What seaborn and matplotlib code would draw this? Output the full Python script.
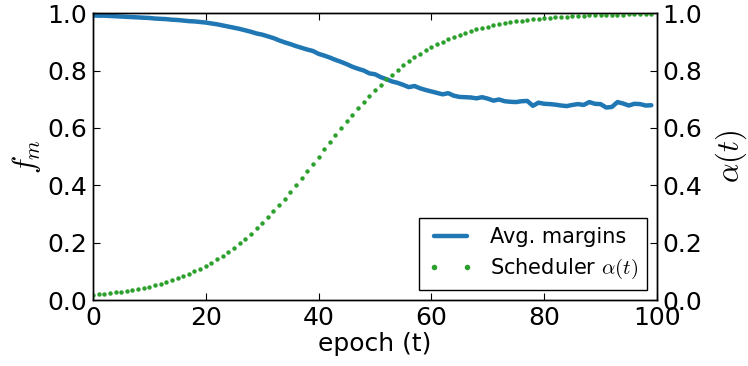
import numpy as np
import pandas as pd
import matplotlib
matplotlib.use("Agg")
import matplotlib.pyplot as plt
import seaborn as sns

# values
epochs = list(range(100))

avg_margins = [
    0.992, 0.991, 0.991, 0.990, 0.989, 0.988, 0.987, 0.986, 0.985, 0.984,
    0.983, 0.981, 0.980, 0.979, 0.977, 0.976, 0.974, 0.972, 0.971, 0.969,
    0.967, 0.964, 0.961, 0.957, 0.953, 0.949, 0.945, 0.940, 0.935, 0.929,
    0.925, 0.919, 0.913, 0.905, 0.898, 0.892, 0.885, 0.879, 0.873, 0.868,
    0.858, 0.852, 0.845, 0.837, 0.830, 0.822, 0.813, 0.806, 0.800, 0.790,
    0.787, 0.777, 0.770, 0.762, 0.757, 0.750, 0.742, 0.746, 0.738, 0.732,
    0.727, 0.722, 0.717, 0.721, 0.712, 0.708, 0.707, 0.706, 0.703, 0.707,
    0.702, 0.695, 0.699, 0.693, 0.691, 0.690, 0.693, 0.694, 0.677, 0.688,
    0.684, 0.683, 0.681, 0.678, 0.676, 0.680, 0.683, 0.680, 0.690, 0.684,
    0.683, 0.671, 0.673, 0.690, 0.685, 0.678, 0.684, 0.683, 0.678, 0.679,
]

scheduler = [
    0.018, 0.020, 0.022, 0.024, 0.027, 0.029, 0.032, 0.036, 0.039, 0.043,
    0.047, 0.052, 0.057, 0.063, 0.069, 0.076, 0.083, 0.091, 0.100, 0.109,
    0.119, 0.130, 0.142, 0.155, 0.168, 0.182, 0.198, 0.214, 0.232, 0.250,
    0.269, 0.289, 0.310, 0.332, 0.354, 0.378, 0.401, 0.426, 0.450, 0.475,
    0.500, 0.525, 0.550, 0.574, 0.599, 0.623, 0.646, 0.668, 0.690, 0.711,
    0.731, 0.750, 0.769, 0.786, 0.802, 0.818, 0.832, 0.846, 0.858, 0.870,
    0.881, 0.891, 0.900, 0.909, 0.917, 0.924, 0.931, 0.937, 0.943, 0.948,
    0.953, 0.957, 0.961, 0.964, 0.968, 0.971, 0.973, 0.976, 0.978, 0.980,
    0.982, 0.984, 0.985, 0.987, 0.988, 0.989, 0.990, 0.991, 0.992, 0.993,
    0.993, 0.994, 0.995, 0.995, 0.995, 0.996, 0.996, 0.997, 0.997, 0.997,
]

yticks = [0, 0.2, 0.4, 0.6, 0.8, 1.0]
ytick_labels = ["0.0", "0.2", "0.4", "0.6", "0.8", "1.0"]
xticks = [0, 20, 40, 60, 80, 100]

df = pd.DataFrame({"epoch": epochs, "margins": avg_margins, "alpha": scheduler})

sns.set_style("white")
plt.rcParams["font.family"] = ["DejaVu Sans"]
plt.rcParams["mathtext.fontset"] = "cm"
for key in ("text.color", "axes.labelcolor", "xtick.color", "ytick.color"):
    plt.rcParams[key] = "black"

BLUE = "#1f77b4"
GREEN = "#2ca02c"

fig = plt.figure(figsize=(7.48, 3.66), dpi=100)
ax = fig.add_axes([0.1243, 0.180, 0.7540, 0.7842])
ax2 = ax.twinx()

sns.lineplot(data=df, x="epoch", y="margins", ax=ax, color=BLUE, lw=3.2,
             label="Avg. margins", legend=False)
sns.lineplot(data=df, x="epoch", y="alpha", ax=ax2, color=GREEN, lw=0,
             marker="o", markersize=3.2, markeredgewidth=0,
             label=r"Scheduler $\alpha(t)$", legend=False)

for a in (ax, ax2):
    a.set_xlim(0, 100)
    a.set_ylim(0, 1)
    a.set_yticks(yticks)
    a.set_yticklabels(ytick_labels)
    for s in a.spines.values():
        s.set_color("black")
        s.set_linewidth(1.0)

ax.set_xticks(xticks)
ax.tick_params(axis="both", direction="in", length=5, width=0.8, labelsize=18,
               top=True, bottom=True, left=True, right=False, pad=4)
ax2.tick_params(axis="y", direction="in", length=5, width=0.8, labelsize=18,
                right=True, left=False, pad=4)

ax.set_xlabel("epoch (t)", fontsize=18, labelpad=2)
ax.set_ylabel(r"$f_m$", fontsize=22, labelpad=3)
ax2.set_ylabel(r"$\alpha(t)$", fontsize=22, labelpad=8)

h1, l1 = ax.get_legend_handles_labels()
h2, l2 = ax2.get_legend_handles_labels()
leg = ax2.legend(h1 + h2, l1 + l2, loc="lower right", fontsize=15,
                 numpoints=2, fancybox=False, framealpha=1,
                 edgecolor="black", borderaxespad=0.5, handlelength=2.2)
leg.get_frame().set_linewidth(1.0)
for h in leg.legend_handles:
    if h.get_marker() == "o":
        h.set_markersize(4)

fig.savefig("out.png", dpi=100)
